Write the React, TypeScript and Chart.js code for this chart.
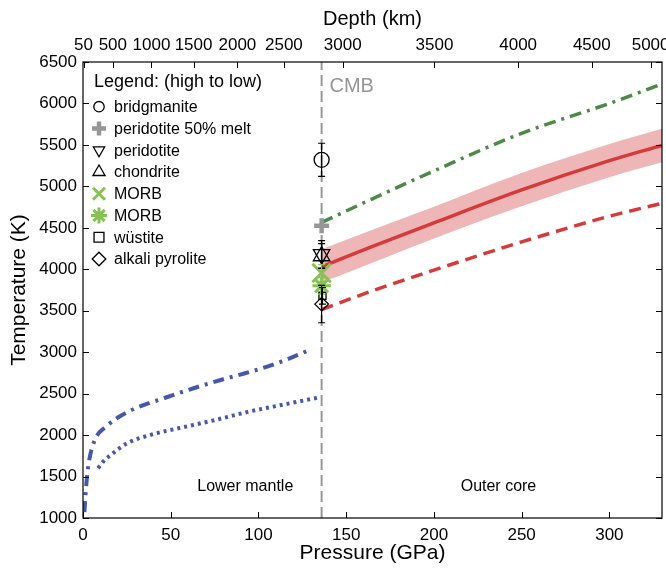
import React, { useEffect, useRef } from 'react';
import { Chart, registerables } from 'chart.js';
import { drawPoint } from 'chart.js/helpers';

Chart.register(...registerables);

// ---------- data ----------
const CMB_PRESSURE = 136;
const X_MIN = 0;
const X_MAX = 330;
const Y_MIN = 1000;
const Y_MAX = 6500;

const depthLabels = [50, 500, 1000, 1500, 2000, 2500, 3000, 3500, 4000, 4500, 5000];
const depthPressure = [0.3, 17, 39, 63, 88, 114.5, 148, 200.3, 248, 290, 323.5];

// Lower-mantle curves (blue)
const blueDashDotP = [0.8, 1.5, 2.3, 3.4, 4.8, 7.6, 13, 19, 30, 46, 63, 78.5, 95.6, 113, 130];
const blueDashDotT = [1070, 1300, 1500, 1680, 1820, 1980, 2100, 2200, 2325, 2444, 2565, 2665, 2765, 2885, 3035];
const blueDotP = [8.6, 11.5, 17, 25, 38, 55, 75, 94, 113, 135];
const blueDotT = [1600, 1680, 1780, 1900, 2000, 2085, 2180, 2280, 2363, 2456];

// Outer-core curves
const coreP = [136, 165, 200, 250, 300, 330];
const redSolidT = [4030, 4275, 4560, 4957, 5310, 5495];
const bandHighT = [4240, 4478, 4755, 5160, 5510, 5695];
const bandLowT = [3840, 4080, 4370, 4760, 5110, 5290];
const greenDashDotT = [4565, 4850, 5186, 5640, 6000, 6235];
const redDashedT = [3515, 3740, 3990, 4330, 4640, 4795];

// Melting-point markers at the CMB
const legendTitle = 'Legend: (high to low)';
const markerNames = ['bridgmanite', 'peridotite 50% melt', 'peridotite', 'chondrite', 'MORB', 'MORB', 'wüstite', 'alkali pyrolite'];
const markerPressure = [136, 136, 136, 136, 136, 136, 136.5, 136];
const markerTemp = [5320, 4525, 4180, 4160, 3955, 3800, 3680, 3580];
const markerErr = [200, 0, 165, 150, 100, 100, 100, 225];

// Text annotations
const cmbLabel = 'CMB';
const regionLabels = ['Lower mantle', 'Outer core'];
const regionLabelP = [92.5, 236.8];
const regionLabelT = 1378;
const cmbLabelPos = { x: 140.5, y: 6200 };

// ---------- styles ----------
const FONT = '"Liberation Sans", Arial, Helvetica, sans-serif';
const BLUE = 'rgb(70,88,170)';
const RED = 'rgb(214,58,58)';
const DGREEN = 'rgb(76,136,70)';
const LGREEN = 'rgb(134,195,82)';
const GRAY = 'rgb(150,150,150)';

const markerStyles = [
  { pointStyle: 'circle', rotation: 0, radius: 7.5, legendRadius: 5.2, color: '#000', lineWidth: 1.3, errColor: '#000' },
  { pointStyle: 'cross', rotation: 0, radius: 7.5, legendRadius: 7, color: GRAY, lineWidth: 4.5, errColor: '#000' },
  { pointStyle: 'triangle', rotation: 180, radius: 9.5, legendRadius: 6.5, color: '#000', lineWidth: 1.3, errColor: '#000' },
  { pointStyle: 'triangle', rotation: 0, radius: 9.5, legendRadius: 7, color: '#000', lineWidth: 1.3, errColor: '#000' },
  { pointStyle: 'crossRot', rotation: 0, radius: 13, legendRadius: 8.5, color: LGREEN, lineWidth: 3, errColor: LGREEN },
  { pointStyle: 'star', rotation: 0, radius: 9.2, legendRadius: 8, color: LGREEN, lineWidth: 3, errColor: LGREEN },
  { pointStyle: 'rect', rotation: 0, radius: 5, legendRadius: 7, color: '#000', lineWidth: 1.3, errColor: '#000' },
  { pointStyle: 'rectRot', rotation: 0, radius: 6.8, legendRadius: 6.8, color: '#000', lineWidth: 1.3, errColor: '#000' },
];

const pts = (xs: number[], ys: number[]) => xs.map((x, i) => ({ x, y: ys[i] }));

const lineDs = (label: string, data: any[], color: string, width: number, dash: number[], extra: any = {}) => ({
  label,
  data,
  borderColor: color,
  backgroundColor: color,
  borderWidth: width,
  borderDash: dash,
  borderCapStyle: 'butt',
  pointRadius: 0,
  pointHoverRadius: 0,
  cubicInterpolationMode: 'monotone',
  fill: false,
  ...extra,
});

const zeroPadding = (s: any) => {
  s.paddingLeft = 0;
  s.paddingRight = 0;
};

// ---------- plugins ----------
const frameAndTicks = {
  id: 'frameAndTicks',
  afterDraw(chart: any) {
    const { ctx, chartArea: a, scales } = chart;
    const L = 6;
    ctx.save();
    ctx.strokeStyle = '#000';
    ctx.lineWidth = 1.2;
    ctx.strokeRect(a.left, a.top, a.right - a.left, a.bottom - a.top);
    ctx.lineWidth = 1;
    ctx.beginPath();
    scales.x.ticks.forEach((t: any) => {
      const px = Math.round(scales.x.getPixelForValue(t.value)) + 0.5;
      ctx.moveTo(px, a.bottom);
      ctx.lineTo(px, a.bottom - L);
    });
    scales.x2.ticks.forEach((t: any) => {
      const px = Math.round(scales.x2.getPixelForValue(t.value)) + 0.5;
      ctx.moveTo(px, a.top);
      ctx.lineTo(px, a.top + L);
    });
    scales.y.ticks.forEach((t: any) => {
      const py = Math.round(scales.y.getPixelForValue(t.value)) + 0.5;
      ctx.moveTo(a.left, py);
      ctx.lineTo(a.left + L, py);
      ctx.moveTo(a.right, py);
      ctx.lineTo(a.right - L, py);
    });
    ctx.stroke();
    ctx.restore();
  },
};

const errorBars = {
  id: 'errorBars',
  afterDatasetsDraw(chart: any) {
    const { ctx, scales } = chart;
    ctx.save();
    ctx.lineWidth = 1.2;
    markerNames.forEach((_, i) => {
      const e = markerErr[i];
      if (!e) return;
      const x = scales.x.getPixelForValue(markerPressure[i]);
      const y1 = scales.y.getPixelForValue(markerTemp[i] + e);
      const y2 = scales.y.getPixelForValue(markerTemp[i] - e);
      ctx.strokeStyle = markerStyles[i].errColor;
      ctx.beginPath();
      ctx.moveTo(x, y1);
      ctx.lineTo(x, y2);
      ctx.moveTo(x - 3.5, y1);
      ctx.lineTo(x + 3.5, y1);
      ctx.moveTo(x - 3.5, y2);
      ctx.lineTo(x + 3.5, y2);
      ctx.stroke();
    });
    ctx.restore();
  },
};

const annotations = {
  id: 'annotations',
  afterDatasetsDraw(chart: any) {
    const { ctx, scales, chartArea: a } = chart;
    ctx.save();
    // CMB label
    ctx.fillStyle = GRAY;
    ctx.font = `20px ${FONT}`;
    ctx.textAlign = 'left';
    ctx.textBaseline = 'middle';
    ctx.fillText(cmbLabel, scales.x.getPixelForValue(cmbLabelPos.x), scales.y.getPixelForValue(cmbLabelPos.y));
    // region labels
    ctx.fillStyle = '#000';
    ctx.font = `16px ${FONT}`;
    ctx.textAlign = 'center';
    regionLabels.forEach((t, i) => {
      ctx.fillText(t, scales.x.getPixelForValue(regionLabelP[i]), scales.y.getPixelForValue(regionLabelT));
    });
    // legend
    ctx.textAlign = 'left';
    ctx.font = `18px ${FONT}`;
    ctx.fillText(legendTitle, a.left + 11, a.top + 20);
    ctx.font = `16px ${FONT}`;
    markerNames.forEach((name, i) => {
      const y = a.top + 44.7 + i * 21.76;
      const st = markerStyles[i];
      ctx.strokeStyle = st.color;
      ctx.fillStyle = 'rgba(0,0,0,0)';
      ctx.lineWidth = st.lineWidth;
      drawPoint(ctx, { pointStyle: st.pointStyle, rotation: st.rotation, radius: st.legendRadius, borderWidth: st.lineWidth } as any, a.left + 16, y);
      ctx.fillStyle = '#000';
      ctx.fillText(name, a.left + 31, y + 1);
    });
    ctx.restore();
  },
};

export default function App() {
  const ref = useRef<HTMLCanvasElement | null>(null);

  useEffect(() => {
    if (!ref.current) return;
    Chart.defaults.font.family = FONT;
    Chart.defaults.color = '#000';

    const markerDatasets = markerNames.map((name, i) => {
      const st = markerStyles[i];
      return {
        label: name,
        data: [{ x: markerPressure[i], y: markerTemp[i] }],
        showLine: false,
        pointStyle: st.pointStyle,
        pointRotation: st.rotation,
        pointRadius: st.radius,
        pointHoverRadius: st.radius,
        pointBorderWidth: st.lineWidth,
        pointBorderColor: st.color,
        pointBackgroundColor: 'rgba(0,0,0,0)',
        borderColor: st.color,
        backgroundColor: 'rgba(0,0,0,0)',
      };
    });

    const chart = new Chart(ref.current, {
      type: 'line',
      data: {
        datasets: [
          ...markerDatasets,
          lineDs('Red solid', pts(coreP, redSolidT), RED, 3.5, []),
          lineDs('Green dash-dot', pts(coreP, greenDashDotT), DGREEN, 3.5, [12, 6, 3, 6]),
          lineDs('Red dashed', pts(coreP, redDashedT), RED, 3.5, [12, 7]),
          lineDs('Band high', pts(coreP, bandHighT), 'rgba(0,0,0,0)', 0, [], { fill: '+1', backgroundColor: 'rgba(214,80,80,0.42)' }),
          lineDs('Band low', pts(coreP, bandLowT), 'rgba(0,0,0,0)', 0, []),
          lineDs('Blue dash-dot', pts(blueDashDotP, blueDashDotT), BLUE, 4, [11, 6, 3, 6]),
          lineDs('Blue dotted', pts(blueDotP, blueDotT), BLUE, 4, [3, 4]),
          lineDs('CMB', pts([CMB_PRESSURE, CMB_PRESSURE], [Y_MIN, Y_MAX]), GRAY, 2, [11, 5], { cubicInterpolationMode: 'default' }),
        ] as any,
      },
      options: {
        animation: false,
        responsive: true,
        maintainAspectRatio: false,
        events: [],
        layout: { autoPadding: false, padding: { left: 0, right: 4, top: 0, bottom: 0 } },
        plugins: {
          legend: { display: false },
          tooltip: { enabled: false },
        },
        scales: {
          x: {
            type: 'linear',
            position: 'bottom',
            min: X_MIN,
            max: X_MAX,
            grid: { display: false, drawTicks: false },
            border: { display: false },
            ticks: {
              stepSize: 50,
              includeBounds: false,
              autoSkip: false,
              maxRotation: 0,
              padding: 7,
              font: { size: 17 },
              color: '#000',
              callback: (v: any) => String(v),
            },
            title: { display: true, text: 'Pressure (GPa)', font: { size: 21 }, color: '#000', padding: { top: 0, bottom: 5 } },
            afterFit: (s: any) => { s.height = 53; zeroPadding(s); },
          },
          x2: {
            type: 'linear',
            position: 'top',
            min: X_MIN,
            max: X_MAX,
            grid: { display: false, drawTicks: false },
            border: { display: false },
            afterBuildTicks: (s: any) => { s.ticks = depthPressure.map((v) => ({ value: v })); },
            ticks: {
              autoSkip: false,
              maxRotation: 0,
              padding: 6,
              font: { size: 17 },
              color: '#000',
              callback: (_v: any, i: number) => String(depthLabels[i]),
            },
            title: { display: true, text: 'Depth (km)', font: { size: 20 }, color: '#000', padding: { top: 7, bottom: 0 } },
            afterFit: (s: any) => { s.height = 62; zeroPadding(s); },
          },
          y: {
            type: 'linear',
            position: 'left',
            min: Y_MIN,
            max: Y_MAX,
            grid: { display: false, drawTicks: false },
            border: { display: false },
            ticks: {
              stepSize: 500,
              padding: 6,
              font: { size: 17 },
              color: '#000',
              callback: (v: any) => String(v),
            },
            title: { display: true, text: 'Temperature (K)', font: { size: 21 }, color: '#000', padding: { top: 7, bottom: 0 } },
            afterFit: (s: any) => { s.width = 83; },
          },
        },
      } as any,
      plugins: [errorBars, annotations, frameAndTicks],
    });
    return () => chart.destroy();
  }, []);

  return (
    <div style={{ position: 'absolute', left: 0, top: 0, width: 666, height: 571, background: '#fff' }}>
      <canvas ref={ref} />
    </div>
  );
}
